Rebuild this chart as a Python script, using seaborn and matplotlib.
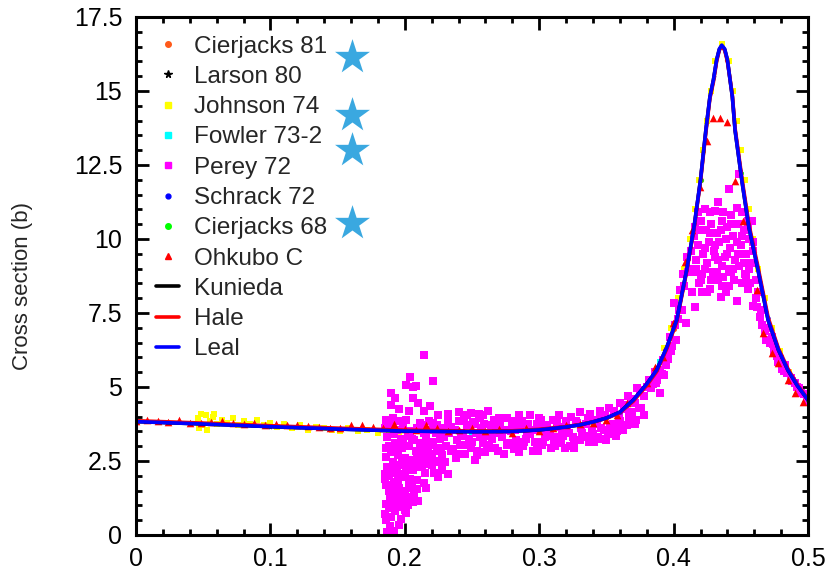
import matplotlib
matplotlib.use('Agg')
import matplotlib.pyplot as plt
from matplotlib.lines import Line2D
from matplotlib.ticker import MultipleLocator
import seaborn as sns

# evaluated curves
curve_x = [0.00, 0.05, 0.10, 0.15, 0.20, 0.25, 0.28, 0.30, 0.32, 0.33,
           0.34, 0.35, 0.36, 0.37, 0.38, 0.3874, 0.395, 0.4023, 0.4097, 0.4152,
           0.42, 0.424, 0.427, 0.4296, 0.432, 0.434, 0.4358, 0.438, 0.440, 0.442,
           0.4437, 0.4457, 0.451, 0.456, 0.4628, 0.4703, 0.478, 0.485, 0.492, 0.50]
leal_y = [3.83, 3.75, 3.66, 3.58, 3.51, 3.49, 3.50, 3.55, 3.65, 3.72,
          3.82, 3.95, 4.15, 4.56, 5.10, 5.57, 6.35, 7.26, 8.95, 10.4,
          12.0, 13.68, 14.8, 15.37, 16.05, 16.42, 16.55, 16.42, 16.05, 15.37,
          14.8, 13.68, 11.9, 10.4, 8.95, 7.26, 6.25, 5.57, 5.05, 4.56]
kunieda_y = [3.83, 3.75, 3.66, 3.58, 3.51, 3.49, 3.50, 3.55, 3.65, 3.72,
             3.82, 3.95, 4.15, 4.56, 5.10, 5.57, 6.35, 7.26, 8.95, 10.4,
             12.0, 13.68, 14.8, 15.37, 16.05, 16.40, 16.52, 16.40, 16.05, 15.37,
             14.8, 13.68, 11.9, 10.4, 8.95, 7.26, 6.25, 5.57, 5.05, 4.56]
hale_y = [3.86, 3.78, 3.69, 3.61, 3.54, 3.51, 3.52, 3.57, 3.66, 3.73,
          3.82, 3.94, 4.13, 4.52, 5.05, 5.52, 6.30, 7.20, 8.90, 10.35,
          11.95, 13.6, 14.75, 15.3, 16.0, 16.38, 16.5, 16.38, 16.0, 15.4,
          14.85, 13.75, 12.0, 10.5, 9.05, 7.35, 6.3, 5.62, 5.08, 4.58]

# measured data
cierjacks81_x = [0.30, 0.35, 0.38, 0.40, 0.42, 0.44, 0.46, 0.48]
cierjacks81_y = [3.55, 3.95, 5.10, 6.96, 12.0, 16.05, 9.55, 6.06]
larson80_x = [0.10, 0.20, 0.30, 0.41, 0.43, 0.45]
larson80_y = [3.66, 3.51, 3.55, 9.03, 15.48, 12.23]
fowler_x = [0.25, 0.33, 0.37, 0.39]
fowler_y = [3.49, 3.72, 4.56, 5.84]
schrack_x = [0.05, 0.15, 0.36, 0.47, 0.49]
schrack_y = [3.75, 3.58, 4.15, 7.33, 5.20]
cierjacks68_x = [0.34, 0.38, 0.42, 0.45, 0.50]
cierjacks68_y = [3.82, 5.10, 12.0, 12.23, 4.56]

johnson_x = [0.046, 0.048, 0.050, 0.052, 0.055, 0.057, 0.060, 0.064, 0.068, 0.072,
             0.076, 0.080, 0.085, 0.090, 0.095, 0.100, 0.105, 0.110, 0.116, 0.122,
             0.128, 0.134, 0.140, 0.146, 0.152, 0.158, 0.165, 0.172, 0.180, 0.188,
             0.196, 0.047, 0.053, 0.058,
             0.388, 0.393, 0.398, 0.403, 0.408, 0.412, 0.416, 0.419, 0.422, 0.425,
             0.428, 0.431, 0.436, 0.441, 0.444, 0.447, 0.450, 0.453, 0.456, 0.459,
             0.463, 0.468, 0.473, 0.479, 0.486, 0.494, 0.500]
johnson_y = [3.95, 4.10, 3.70, 4.05, 3.85, 4.00, 3.75, 3.90, 3.80, 3.95,
             3.70, 3.85, 3.75, 3.90, 3.70, 3.80, 3.65, 3.75, 3.60, 3.70,
             3.55, 3.65, 3.60, 3.55, 3.50, 3.60, 3.50, 3.55, 3.45, 3.50,
             3.45, 3.60, 3.55, 4.10,
             5.60, 6.30, 7.00, 8.00, 9.00, 10.0, 11.0, 12.0, 13.0, 14.0,
             15.0, 16.0, 16.6, 16.0, 15.0, 14.0, 13.0, 12.0, 11.0, 10.0,
             9.00, 8.00, 7.00, 6.20, 5.50, 5.00, 4.60]

perey_x = [
    # low-energy streak
    0.187, 0.192, 0.186, 0.190, 0.188, 0.193, 0.197, 0.189,
    0.195, 0.191, 0.198, 0.186, 0.192, 0.196, 0.200, 0.203,
    0.188, 0.194, 0.199, 0.204, 0.187, 0.191, 0.196, 0.201,
    0.206, 0.186, 0.190, 0.195, 0.200, 0.205, 0.210, 0.188,
    0.193, 0.198, 0.203, 0.208, 0.213, 0.187, 0.192, 0.197,
    0.202, 0.207, 0.212, 0.217, 0.206, 0.210, 0.216, 0.214,
    0.222, 0.228, 0.232, 0.225, 0.189, 0.194, 0.199, 0.190,
    0.185, 0.189, 0.194, 0.199, 0.204, 0.209, 0.214, 0.219,
    0.186, 0.191, 0.196, 0.201, 0.211, 0.218, 0.224, 0.229,
    0.185, 0.190, 0.195, 0.200, 0.185, 0.190, 0.195, 0.200,
    0.205, 0.209, 0.213, 0.218, 0.209, 0.215, 0.220, 0.226,
    0.196, 0.201, 0.186, 0.197, 0.202, 0.207, 0.188, 0.193,
    0.203, 0.209, 0.185, 0.193, 0.198, 0.204, 0.210, 0.215,
    0.220, 0.186, 0.194, 0.199, 0.205, 0.211, 0.216, 0.221,
    # upper scatter
    0.214, 0.204, 0.201, 0.208, 0.221, 0.190, 0.193, 0.206,
    0.210, 0.190, 0.196, 0.203, 0.214, 0.219, 0.225, 0.232,
    0.240, 0.246, 0.255, 0.262, 0.293, 0.249, 0.251, 0.206,
    # band
    0.215, 0.217, 0.213, 0.216, 0.214, 0.222, 0.224, 0.220,
    0.223, 0.221, 0.230, 0.228, 0.231, 0.229, 0.232, 0.238,
    0.236, 0.239, 0.237, 0.245, 0.247, 0.243, 0.246, 0.244,
    0.252, 0.254, 0.250, 0.253, 0.260, 0.258, 0.262, 0.259,
    0.267, 0.265, 0.268, 0.266, 0.274, 0.276, 0.272, 0.281,
    0.283, 0.279, 0.282, 0.288, 0.290, 0.286, 0.295, 0.297,
    0.293, 0.302, 0.304, 0.300, 0.309, 0.311, 0.307, 0.310,
    0.316, 0.318, 0.314, 0.323, 0.325, 0.321, 0.324, 0.330,
    0.332, 0.328, 0.337, 0.339, 0.335, 0.338, 0.344, 0.346,
    0.342, 0.351, 0.353, 0.349, 0.352, 0.358, 0.360, 0.356,
    0.365, 0.367, 0.363, 0.366, 0.372, 0.374, 0.370, 0.373,
    0.226, 0.234, 0.241, 0.249, 0.256, 0.263, 0.270, 0.277,
    0.284, 0.291, 0.298, 0.305, 0.312, 0.319, 0.326, 0.333,
    0.340, 0.347, 0.354, 0.361, 0.368, 0.232, 0.244, 0.256,
    0.270, 0.285, 0.300, 0.315, 0.330, 0.345, 0.360, 0.371,
    0.227, 0.233, 0.239, 0.242, 0.248, 0.254, 0.257, 0.261,
    0.264, 0.269, 0.271, 0.275, 0.278, 0.280, 0.285, 0.287,
    0.289, 0.292, 0.296, 0.299, 0.301, 0.303, 0.306, 0.308,
    0.312, 0.313, 0.317, 0.320, 0.322, 0.326, 0.327, 0.331,
    0.334, 0.336, 0.341, 0.343, 0.345, 0.348, 0.350, 0.355,
    0.357, 0.359, 0.362, 0.364, 0.369, 0.371, 0.376, 0.378,
    0.234, 0.240, 0.252, 0.258, 0.264, 0.276, 0.282, 0.298,
    # left flank
    0.375, 0.368, 0.380, 0.382, 0.386, 0.390, 0.390, 0.392,
    0.395, 0.397, 0.398, 0.400, 0.401, 0.405, 0.409, 0.407,
    0.410, 0.385, 0.378, 0.393, 0.402, 0.396, 0.388,
    0.383, 0.387, 0.391, 0.394, 0.399, 0.403, 0.406, 0.411,
    # resonance
    0.435, 0.416, 0.459, 0.421, 0.449, 0.441, 0.433, 0.447,
    0.458, 0.416, 0.420, 0.424, 0.428, 0.432, 0.436, 0.440,
    0.444, 0.448, 0.452, 0.456, 0.418, 0.422, 0.426, 0.430,
    0.434, 0.438, 0.442, 0.446, 0.450, 0.454, 0.458, 0.417,
    0.421, 0.425, 0.429, 0.433, 0.437, 0.441, 0.445, 0.449,
    0.453, 0.457, 0.427, 0.439, 0.447, 0.419,
    0.404, 0.408, 0.412, 0.414, 0.418, 0.423, 0.427, 0.431,
    0.437, 0.443, 0.451, 0.455, 0.459, 0.413, 0.461, 0.463,
    0.415, 0.419, 0.423, 0.427, 0.431, 0.435, 0.439, 0.443,
    0.447, 0.451, 0.455, 0.459, 0.417, 0.423, 0.431, 0.436,
    0.440, 0.444, 0.448, 0.452, 0.456, 0.420, 0.428, 0.432,
    0.436, 0.443, 0.451, 0.455, 0.415, 0.425, 0.433, 0.441,
    # right flank
    0.454, 0.464, 0.472, 0.479, 0.484, 0.492, 0.499, 0.461,
    0.468, 0.475, 0.481, 0.488, 0.495, 0.500, 0.466, 0.473,
    0.470, 0.477, 0.483, 0.490, 0.497,
    0.462, 0.465, 0.469, 0.474, 0.478, 0.482, 0.487, 0.493,
]
perey_y = [
    0.10, 0.15, 0.50, 0.60, 0.90, 0.80, 0.55, 1.20,
    1.10, 1.45, 1.30, 1.70, 1.80, 1.60, 1.50, 1.30,
    2.00, 2.10, 2.00, 1.90, 2.30, 2.45, 2.35, 2.25,
    2.20, 2.65, 2.80, 2.70, 2.60, 2.55, 2.50, 3.00,
    3.10, 2.95, 3.00, 2.85, 2.80, 3.30, 3.40, 3.25,
    3.35, 3.20, 3.10, 3.00, 1.10, 1.15, 1.60, 1.75,
    2.10, 2.20, 2.05, 1.95, 0.30, 0.95, 1.95, 1.55,
    3.60, 3.70, 3.55, 3.65, 3.50, 3.60, 3.45, 3.55,
    3.90, 3.95, 3.85, 3.90, 3.80, 3.85, 3.70, 3.60,
    0.70, 1.00, 1.35, 0.85, 1.90, 2.15, 1.85, 2.05,
    1.60, 1.85, 2.30, 2.45, 2.65, 2.10, 2.75, 2.45,
    0.35, 0.75, 1.05, 1.05, 1.00, 1.35, 1.50, 1.65,
    1.70, 1.55, 2.05, 2.30, 2.55, 2.45, 2.30, 2.60,
    2.35, 2.95, 2.90, 3.20, 3.25, 3.00, 3.25, 3.05,
    6.08, 5.33, 5.07, 5.03, 5.21, 4.81, 4.62, 4.62,
    4.45, 4.39, 4.25, 4.20, 4.20, 4.35, 4.05, 4.10,
    4.15, 4.05, 4.10, 4.20, 4.05, 4.12, 3.83, 5.00,
    2.40, 2.75, 3.05, 3.35, 3.70, 2.50, 2.85, 3.15,
    3.45, 3.80, 2.45, 2.70, 3.00, 3.30, 3.75, 2.60,
    2.90, 3.20, 3.55, 2.75, 3.05, 3.35, 3.70, 3.95,
    2.55, 2.85, 3.15, 3.45, 2.80, 3.10, 3.35, 3.75,
    2.95, 3.25, 3.60, 3.90, 2.75, 3.05, 3.30, 2.90,
    3.20, 3.50, 3.85, 3.00, 3.25, 3.60, 2.85, 3.15,
    3.40, 3.05, 3.30, 3.70, 2.95, 3.20, 3.50, 3.90,
    3.10, 3.35, 3.65, 3.00, 3.30, 3.60, 4.00, 3.20,
    3.45, 3.80, 3.15, 3.50, 3.75, 4.10, 3.30, 3.60,
    3.90, 3.40, 3.70, 4.05, 4.30, 3.50, 3.85, 4.20,
    3.70, 4.00, 4.40, 4.70, 3.90, 4.30, 4.60, 4.95,
    3.25, 2.85, 3.05, 2.95, 3.30, 3.05, 3.45, 3.55,
    2.95, 3.45, 2.95, 3.50, 3.30, 2.95, 3.15, 3.30,
    3.40, 3.25, 3.55, 3.65, 3.85, 3.95, 3.85, 3.95,
    3.95, 4.05, 3.95, 4.05, 4.15, 4.20, 4.45, 4.45,
    2.95, 3.45, 2.75, 3.45, 3.25, 2.70, 3.60, 2.95,
    3.40, 2.85, 3.70, 3.55, 3.10, 3.70, 2.80, 3.85,
    3.15, 3.75, 3.55, 2.85, 3.90, 3.15, 3.70, 3.35,
    3.00, 3.85, 3.50, 3.85, 3.45, 2.95, 3.85, 3.60,
    3.35, 3.95, 3.15, 3.75, 4.05, 3.55, 3.20, 3.75,
    3.35, 4.00, 3.55, 4.25, 4.15, 3.75, 4.30, 4.05,
    3.65, 3.85, 3.75, 4.05, 3.70, 3.95, 3.55, 3.75,
    4.90, 4.56, 5.00, 5.24, 5.50, 5.57, 4.80, 5.90,
    6.14, 6.70, 6.20, 7.84, 7.10, 8.28, 7.16, 8.80,
    9.40, 5.10, 4.70, 5.40, 6.60, 5.95, 5.25,
    4.95, 5.15, 5.45, 5.75, 6.40, 7.30, 7.60, 8.90,
    8.04, 7.70, 7.74, 8.22, 12.20, 11.70, 11.25, 11.05,
    10.60, 10.40, 10.60, 10.30, 10.50, 10.20, 10.60, 10.40,
    10.10, 10.50, 10.30, 10.00, 9.80, 9.50, 9.90, 9.60,
    9.90, 9.40, 9.70, 9.30, 9.80, 9.50, 9.20, 9.00,
    8.80, 9.20, 8.90, 9.30, 8.70, 9.00, 8.60, 9.10,
    8.80, 8.50, 8.30, 8.20, 7.90, 8.50,
    7.60, 8.40, 9.00, 8.20, 10.90, 11.00, 10.90, 10.95,
    10.90, 10.80, 10.90, 10.60, 9.90, 9.60, 8.60, 8.20,
    10.10, 10.30, 9.70, 10.20, 9.80, 10.30, 10.00, 10.50,
    9.90, 10.10, 10.40, 9.60, 9.30, 9.00, 9.40, 9.10,
    9.50, 9.00, 9.50, 9.20, 9.00, 8.60, 8.60, 8.90,
    8.40, 8.90, 8.50, 8.30, 8.90, 8.20, 8.60, 8.40,
    8.73, 7.37, 6.49, 5.91, 5.46, 5.01, 4.62, 8.00,
    6.90, 6.20, 5.60, 5.20, 4.80, 4.50, 7.10, 6.70,
    7.00, 6.05, 5.75, 5.15, 4.75,
    7.70, 7.60, 6.60, 6.45, 5.85, 5.55, 5.30, 4.95,
]

ohkubo_x = [0.000, 0.008, 0.016, 0.024, 0.032, 0.040, 0.048, 0.056, 0.064, 0.072,
            0.080, 0.088, 0.096, 0.104, 0.112, 0.120, 0.128, 0.136, 0.144, 0.152,
            0.160, 0.168, 0.176, 0.184, 0.192, 0.200, 0.208, 0.216, 0.224, 0.232,
            0.240, 0.250, 0.260, 0.270, 0.280, 0.290, 0.300, 0.310, 0.320, 0.330,
            0.340, 0.350, 0.358,
            0.4296, 0.4345, 0.440, 0.425, 0.4196, 0.4457, 0.4519, 0.4134, 0.4085, 0.3998,
            0.3924, 0.3862, 0.380, 0.365, 0.4618, 0.4667, 0.473, 0.478, 0.4853, 0.4903,
            0.4965]
ohkubo_y = [3.85, 3.90, 3.85, 3.82, 3.88, 3.80, 3.78, 3.82, 3.85, 3.78,
            3.75, 3.80, 3.72, 3.75, 3.70, 3.72, 3.68, 3.65, 3.62, 3.60,
            3.72, 3.70, 3.65, 3.62, 3.75, 3.58, 3.55, 3.72, 3.60, 3.52,
            3.55, 3.62, 3.50, 3.58, 3.45, 3.60, 3.52, 3.62, 3.70, 3.75,
            3.80, 3.90, 4.05,
            14.10, 14.09, 13.96, 13.30, 11.75, 11.97, 10.60, 10.30, 9.23, 7.15,
            6.02, 5.69, 5.12, 4.47, 8.28, 6.81, 6.14, 5.80, 5.24, 4.79,
            4.50]

# stars next to legend entries
star_x = [0.161, 0.161, 0.161, 0.161]
star_y = [16.15, 14.2, 13.0, 10.53]

x_ticks = [0, 0.1, 0.2, 0.3, 0.4, 0.5]
x_tick_labels = ['0', '0.1', '0.2', '0.3', '0.4', '0.5']
y_ticks = [0, 2.5, 5, 7.5, 10, 12.5, 15, 17.5]
y_tick_labels = ['0', '2.5', '5', '7.5', '10', '12.5', '15', '17.5']

sns.set_style('ticks')
plt.rcParams['font.family'] = ['Liberation Sans', 'DejaVu Sans']

fig = plt.figure(figsize=(8.35, 5.81), dpi=100)
ax = fig.add_axes([0.1629, 0.0792, 0.8048, 0.8916])

kw = dict(ax=ax, linewidth=0, legend=False)
sns.scatterplot(x=cierjacks81_x, y=cierjacks81_y, marker='o', color='#ff5a1a', s=14, **kw)
sns.scatterplot(x=larson80_x, y=larson80_y, marker='*', color='black', s=14, **kw)
sns.scatterplot(x=johnson_x, y=johnson_y, marker='s', color='#ffff00', s=18, **kw)
sns.scatterplot(x=fowler_x, y=fowler_y, marker='s', color='#00ffff', s=14, **kw)
sns.scatterplot(x=perey_x, y=perey_y, marker='s', color='#ff00ff', s=36, **kw)
sns.scatterplot(x=schrack_x, y=schrack_y, marker='o', color='#0000ff', s=10, **kw)
sns.scatterplot(x=cierjacks68_x, y=cierjacks68_y, marker='o', color='#00ff00', s=12, **kw)
sns.scatterplot(x=ohkubo_x, y=ohkubo_y, marker='^', color='#ff0000', s=30, **kw)

sns.lineplot(x=curve_x, y=kunieda_y, color='black', lw=2.6, sort=False, estimator=None, ax=ax)
sns.lineplot(x=curve_x, y=hale_y, color='#ff0000', lw=2.6, sort=False, estimator=None, ax=ax)
sns.lineplot(x=curve_x, y=leal_y, color='#0000ff', lw=2.6, sort=False, estimator=None, ax=ax)

sns.scatterplot(x=star_x, y=star_y, marker='*', color='#3aa8e0', s=700, **kw)

ax.set_xlim(0, 0.5)
ax.set_ylim(0, 17.5)
ax.set_xticks(x_ticks)
ax.set_xticklabels(x_tick_labels)
ax.set_yticks(y_ticks)
ax.set_yticklabels(y_tick_labels)
ax.xaxis.set_minor_locator(MultipleLocator(0.02))
ax.yaxis.set_minor_locator(MultipleLocator(0.5))
ax.tick_params(which='both', direction='in', top=True, right=True, width=2,
               labelsize=18, colors='black')
ax.tick_params(which='major', length=9)
ax.tick_params(which='minor', length=4.5)
ax.tick_params(axis='x', pad=9)
ax.tick_params(axis='y', pad=10)
for sp in ax.spines.values():
    sp.set_linewidth(2.2)
    sp.set_color('black')

ax.set_ylabel('Cross section (b)', fontsize=16)
ax.yaxis.set_label_coords(-0.153, 0.48)

handles = [
    Line2D([], [], ls='none', marker='o', ms=4, color='#ff5a1a'),
    Line2D([], [], ls='none', marker='*', ms=5.5, color='black'),
    Line2D([], [], ls='none', marker='s', ms=4, color='#ffff00'),
    Line2D([], [], ls='none', marker='s', ms=4.5, color='#00ffff'),
    Line2D([], [], ls='none', marker='s', ms=4.5, color='#ff00ff'),
    Line2D([], [], ls='none', marker='o', ms=3.5, color='#0000ff'),
    Line2D([], [], ls='none', marker='o', ms=4, color='#00ff00'),
    Line2D([], [], ls='none', marker='^', ms=5, color='#ff0000'),
    Line2D([], [], color='black', lw=2.6),
    Line2D([], [], color='#ff0000', lw=2.6),
    Line2D([], [], color='#0000ff', lw=2.6),
]
labels = ['Cierjacks 81', 'Larson 80', 'Johnson 74', 'Fowler 73-2', 'Perey 72',
          'Schrack 72', 'Cierjacks 68', 'Ohkubo C', 'Kunieda', 'Hale', 'Leal']
ax.legend(handles, labels, loc='upper left', bbox_to_anchor=(0.0298, 0.964),
          frameon=False, fontsize=17.5, borderpad=0, borderaxespad=0,
          handlelength=0.95, handletextpad=0.6, labelspacing=0.34)

fig.savefig('out.png', dpi=100)
